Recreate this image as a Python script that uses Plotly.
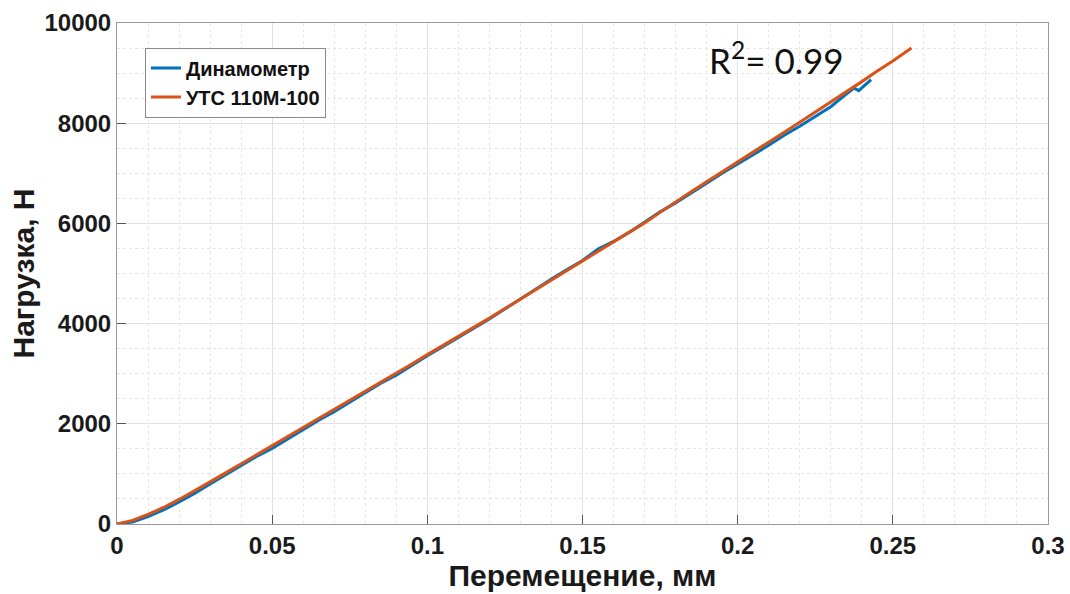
import plotly.graph_objects as go

# Displacement (mm) and load (N) for the testing machine УТС 110М-100
uts_x = [0, 0.005, 0.01, 0.015, 0.02, 0.025, 0.03, 0.035, 0.04, 0.045, 0.05,
         0.055, 0.06, 0.065, 0.07, 0.075, 0.08, 0.085, 0.09, 0.095, 0.1,
         0.105, 0.11, 0.115, 0.12, 0.125, 0.13, 0.135, 0.14, 0.145, 0.15,
         0.155, 0.16, 0.165, 0.17, 0.175, 0.18, 0.185, 0.19, 0.195, 0.2,
         0.205, 0.21, 0.215, 0.22, 0.225, 0.23, 0.235, 0.24, 0.245, 0.25, 0.256]
uts_y = [0, 70, 190, 330, 490, 660, 840, 1020, 1200, 1380, 1560,
         1740, 1920, 2100, 2280, 2465, 2650, 2830, 3010, 3195, 3380,
         3560, 3740, 3925, 4110, 4300, 4490, 4680, 4870, 5060, 5250,
         5440, 5630, 5820, 6010, 6220, 6430, 6630, 6830, 7025, 7220,
         7420, 7620, 7820, 8020, 8220, 8420, 8625, 8830, 9040, 9240, 9500]

# Displacement (mm) and load (N) measured by the dynamometer
dyn_x = [0, 0.005, 0.01, 0.015, 0.02, 0.025, 0.03, 0.035, 0.04, 0.045, 0.05,
         0.055, 0.06, 0.065, 0.07, 0.075, 0.08, 0.085, 0.09, 0.095, 0.1,
         0.105, 0.11, 0.115, 0.12, 0.125, 0.13, 0.135, 0.14, 0.145, 0.15,
         0.155, 0.16, 0.165, 0.17, 0.175, 0.18, 0.185, 0.19, 0.195, 0.2,
         0.205, 0.21, 0.215, 0.22, 0.225, 0.23, 0.235, 0.2375, 0.239, 0.243]
dyn_y = [0, 40, 150, 280, 440, 610, 800, 980, 1160, 1350, 1510,
         1700, 1880, 2070, 2240, 2430, 2610, 2810, 2970, 3170, 3360,
         3540, 3720, 3900, 4090, 4290, 4490, 4700, 4890, 5080, 5260,
         5490, 5640, 5820, 6020, 6230, 6410, 6600, 6800, 7000, 7180,
         7370, 7560, 7760, 7940, 8130, 8330, 8580, 8700, 8650, 8870]

x_ticks = [0, 0.05, 0.1, 0.15, 0.2, 0.25, 0.3]
x_tick_text = ["0", "0.05", "0.1", "0.15", "0.2", "0.25", "0.3"]
y_ticks = [0, 2000, 4000, 6000, 8000, 10000]
y_tick_text = ["0", "2000", "4000", "6000", "8000", "10000"]

BLUE = "#0072BD"
ORANGE = "#D95319"
FONT = "Liberation Sans"

fig = go.Figure()
fig.add_trace(go.Scatter(x=dyn_x, y=dyn_y, mode="lines", name="Динамометр",
                         line=dict(color=BLUE, width=3)))
fig.add_trace(go.Scatter(x=uts_x, y=uts_y, mode="lines", name="УТС 110М-100",
                         line=dict(color=ORANGE, width=3)))

axis_common = dict(
    showline=True, linecolor="#9a9a9a", linewidth=1, mirror=True,
    ticks="inside", ticklen=9, tickcolor="#555555", tickwidth=1,
    showgrid=True, gridcolor="#e2e2e2", gridwidth=1,
    zeroline=False, automargin=False,
    tickfont=dict(family=FONT, size=24, color="#1a1a1a", weight="bold"),
)

fig.update_xaxes(
    range=[0, 0.3], tickvals=x_ticks, ticktext=x_tick_text,
    minor=dict(dtick=0.01, showgrid=True, gridcolor="#e6e6e6", griddash="dot", ticks=""),
    title=dict(text="Перемещение, мм", standoff=4,
               font=dict(family=FONT, size=30, color="#1a1a1a", weight="bold")),
    **axis_common,
)
fig.update_yaxes(
    range=[0, 10000], tickvals=y_ticks, ticktext=y_tick_text,
    minor=dict(dtick=500, showgrid=True, gridcolor="#e6e6e6", griddash="dot", ticks=""),
    title=dict(text="Нагрузка, Н", standoff=0,
               font=dict(family=FONT, size=30, color="#1a1a1a", weight="bold")),
    **axis_common,
)

fig.add_annotation(
    x=0.2125, y=9300, xref="x", yref="y", xanchor="center", yanchor="middle",
    text="R<sup>2</sup>= 0.99", showarrow=False,
    font=dict(family="Lato", size=35, color="#111111"),
)

fig.update_layout(
    width=1070, height=594,
    margin=dict(l=117, r=22, t=23, b=70),
    plot_bgcolor="white", paper_bgcolor="white",
    legend=dict(
        x=0.03, y=0.951, xanchor="left", yanchor="top",
        bgcolor="white", bordercolor="#8a8a8a", borderwidth=1,
        font=dict(family=FONT, size=20, color="#111111", weight="bold"),
        itemwidth=30, tracegroupgap=0,
    ),
    showlegend=True,
)

fig.write_html("out.html")
